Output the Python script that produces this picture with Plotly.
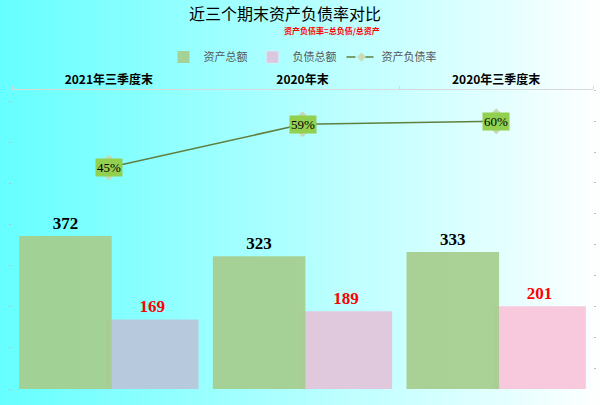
import plotly.graph_objects as go

# data
periods = ['2021年三季度末', '2020年末', '2020年三季度末']
total_assets = [372, 323, 333]
total_debt = [169, 189, 201]
debt_ratio = [0.45, 0.59, 0.60]
debt_colors = ['#b7c9dc', '#e0c9dd', '#f8c8dc']

fig = go.Figure()

# background gradient (cyan -> white), drawn as thin strips
n = 80
x0, x1 = -0.03, 1.03
shapes = []
for i in range(n):
    t = i / (n - 1)
    r = int(102 + (255 - 102) * t)
    shapes.append(dict(type='rect', xref='paper', yref='paper', layer='below',
                       x0=x0 + (x1 - x0) * i / n, x1=x0 + (x1 - x0) * (i + 1) / n + 0.002,
                       y0=-0.1, y1=1.35, line=dict(width=0),
                       fillcolor='rgb(%d,255,255)' % r))

fig.add_trace(go.Bar(x=periods, y=total_debt, name='负债总额', showlegend=False,
                     offset=-0.015, width=0.478,
                     marker=dict(color=debt_colors, line=dict(width=0)),
                     text=total_debt, texttemplate='<b>%{text}</b>',
                     textposition='outside', cliponaxis=False,
                     textfont=dict(family='Liberation Serif', size=17, color='#ff0000')))
fig.add_trace(go.Bar(x=periods, y=total_assets, name='资产总额',
                     offset=-0.463, width=0.478,
                     marker=dict(color='rgba(166,205,142,0.93)', line=dict(width=0)),
                     text=total_assets, texttemplate='<b>%{text}</b>',
                     textposition='outside', cliponaxis=False,
                     textfont=dict(family='Liberation Serif', size=17, color='#000000')))
# legend entries
fig.add_trace(go.Bar(x=[None], y=[None], name='负债总额', marker_color='#d9c8e0'))
fig.add_trace(go.Scatter(x=periods, y=debt_ratio, name='资产负债率', yaxis='y2',
                         mode='lines+markers', showlegend=False,
                         line=dict(color='#5f7f3f', width=1.5),
                         marker=dict(symbol='diamond', size=20, color='#c5d8b6',
                                     line=dict(width=0))))
fig.add_trace(go.Scatter(x=[None], y=[None], name='资产负债率', yaxis='y2',
                         mode='lines+markers',
                         line=dict(color='#5f7f3f', width=1.5, dash='dash'),
                         marker=dict(symbol='diamond', size=7, color='#c9dcb8')))

for p, v in zip(periods, debt_ratio):
    fig.add_annotation(x=p, y=v, yref='y2', text='%d%%' % round(v * 100),
                       showarrow=False, bgcolor='#92d050', borderpad=1,
                       font=dict(family='Liberation Serif', size=13, color='#000000'))

fig.add_annotation(x=0.47, y=1.256, xref='paper', yref='paper', showarrow=False,
                   yanchor='middle', text='近三个期末资产负债率对比',
                   font=dict(family='Noto Sans CJK SC', size=16, color='#000000'))
fig.add_annotation(x=0.55, y=1.2, xref='paper', yref='paper', showarrow=False,
                   yanchor='middle', text='<b>资产负债率=总负债/总资产</b>',
                   font=dict(family='Noto Sans CJK SC', size=8, color='#ff0000'))

fig.update_layout(
    width=600, height=405,
    margin=dict(l=12, r=7, t=90, b=16, autoexpand=False),
    paper_bgcolor='#ffffff', plot_bgcolor='rgba(0,0,0,0)',
    shapes=shapes,
    barmode='overlay',
    font=dict(family='Noto Sans CJK SC'),
    legend=dict(orientation='h', x=0.5, xanchor='center', y=1.11, yanchor='middle',
                traceorder='normal', bgcolor='rgba(0,0,0,0)', itemwidth=30,
                font=dict(size=11, color='#595959')),
    xaxis=dict(side='top', showline=True, linecolor='#d9d9d9', linewidth=1,
               automargin=False,
               ticks='outside', tickson='boundaries', ticklen=3, tickcolor='#d9d9d9',
               tickvals=periods, ticktext=['<b>%s</b>' % p for p in periods],
               tickfont=dict(size=12, color='#000000', family='Noto Sans CJK SC'),
               showgrid=False),
    yaxis=dict(range=[0, 727], showgrid=False, zeroline=False, showticklabels=False,
               automargin=False,
               ticks='outside', ticklen=2, tickcolor='#c0c0c0', dtick=100),
    yaxis2=dict(range=[-0.267, 0.701], overlaying='y', side='right', showgrid=False,
                automargin=False,
                zeroline=False, showticklabels=False, ticks='outside', ticklen=2,
                tickcolor='#c0c0c0', dtick=0.1),
)

fig.write_html('out.html', config={'displayModeBar': False},
               post_script="document.body.style.margin='0';")
